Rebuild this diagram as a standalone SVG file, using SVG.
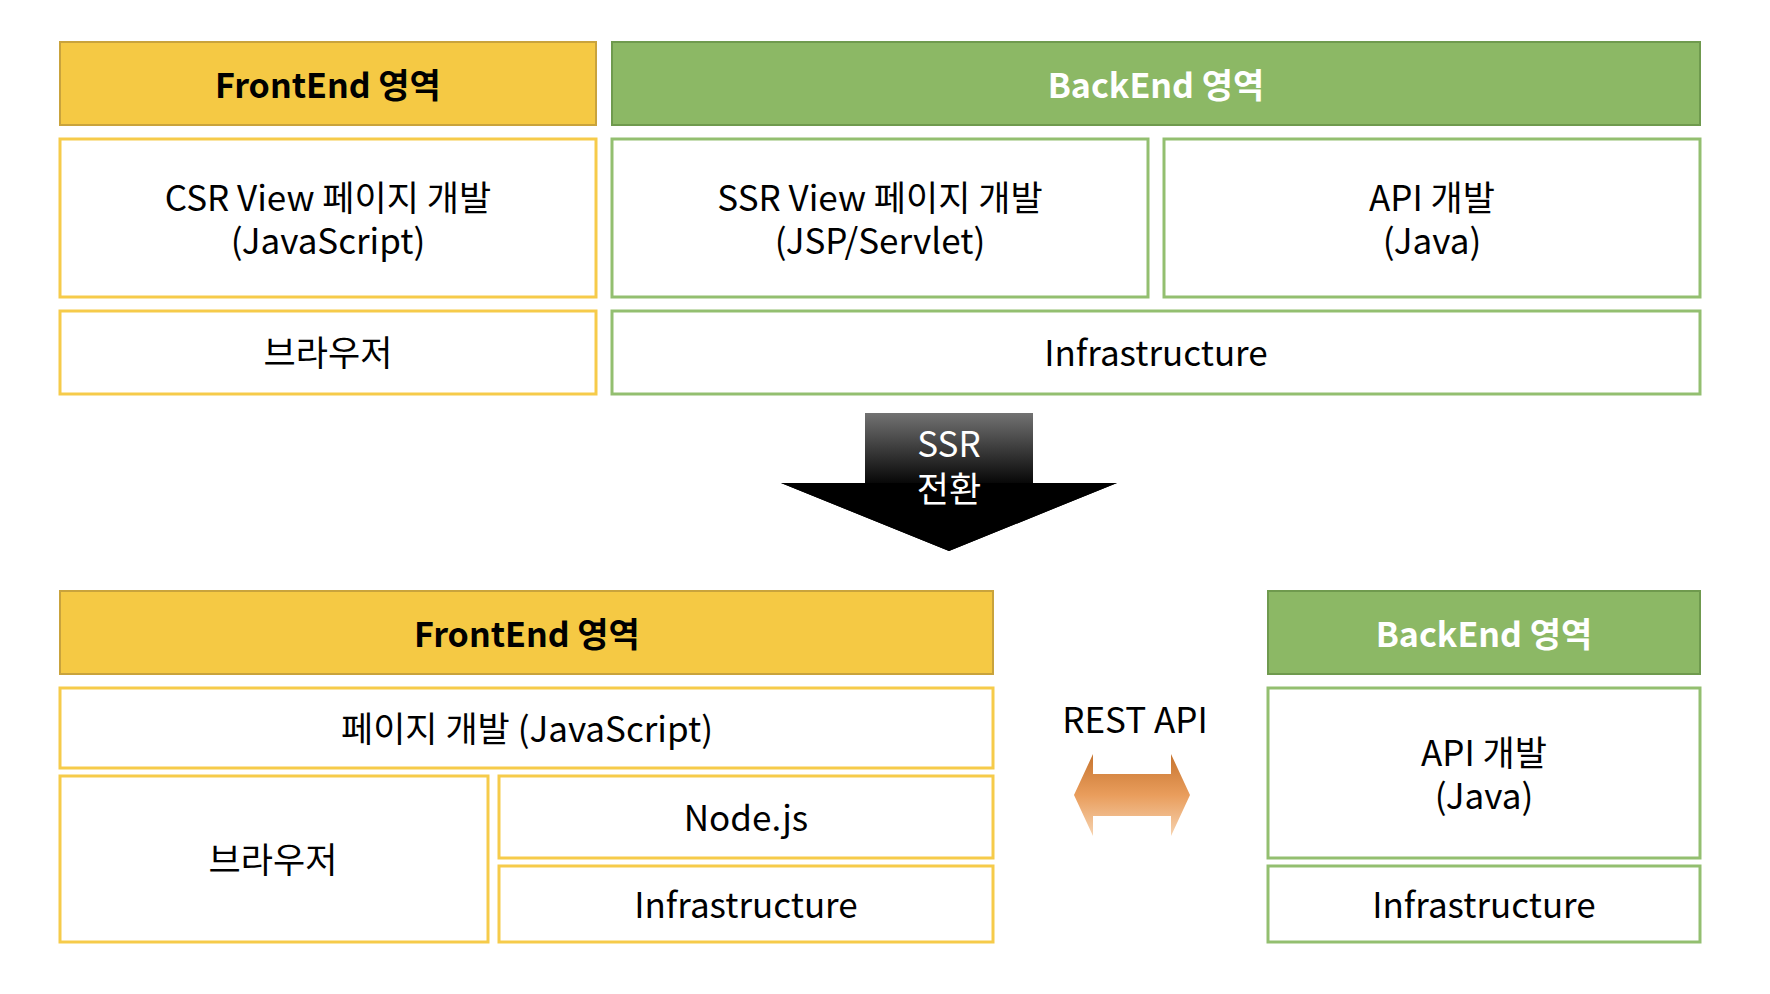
<svg xmlns="http://www.w3.org/2000/svg" width="1770" height="994" viewBox="0 0 1770 994">
<defs>
<style>
.t{font-family:"Noto Sans CJK KR","Noto Sans",sans-serif;font-size:35px;text-anchor:middle;fill:#000}
.hb{font-weight:bold;font-size:34px}
.w{fill:#fff}
.fh{fill:#f5c944;stroke:#c9a33c;stroke-width:2}
.bh{fill:#8cb865;stroke:#6f9a4e;stroke-width:2}
.fb{fill:#fff;stroke:#f6cb4a;stroke-width:3}
.bb{fill:#fff;stroke:#93bf70;stroke-width:3}
</style>
<linearGradient id="gShaft" gradientUnits="userSpaceOnUse" x1="0" y1="413" x2="0" y2="488">
<stop offset="0" stop-color="#727272"/>
<stop offset="1" stop-color="#000"/>
</linearGradient>
<linearGradient id="gOrange" gradientUnits="userSpaceOnUse" x1="0" y1="754" x2="0" y2="836">
<stop offset="0" stop-color="#c6742f"/>
<stop offset="0.5" stop-color="#e99d5c"/>
<stop offset="1" stop-color="#f6d3b0"/>
</linearGradient>
</defs>
<rect width="1770" height="994" fill="#fff"/>

<g id="top-frontend-header"><rect class="fh" x="60" y="42" width="536" height="83"/><text class="t hb" x="328" y="98">FrontEnd 영역</text></g>
<g id="top-backend-header"><rect class="bh" x="612" y="42" width="1088" height="83"/><text class="t hb w" x="1156" y="98">BackEnd 영역</text></g>
<g id="top-csr"><rect class="fb" x="60" y="139" width="536" height="158"/><text class="t" x="328" y="211">CSR View 페이지 개발</text><text class="t" x="328" y="254">(JavaScript)</text></g>
<g id="top-ssr"><rect class="bb" x="612" y="139" width="536" height="158"/><text class="t" x="880" y="211">SSR View 페이지 개발</text><text class="t" x="880" y="254">(JSP/Servlet)</text></g>
<g id="top-api"><rect class="bb" x="1164" y="139" width="536" height="158"/><text class="t" x="1432" y="211">API 개발</text><text class="t" x="1432" y="254">(Java)</text></g>
<g id="top-browser"><rect class="fb" x="60" y="311" width="536" height="83"/><text class="t" x="328" y="366">브라우저</text></g>
<g id="top-infra"><rect class="bb" x="612" y="311" width="1088" height="83"/><text class="t" x="1156" y="366">Infrastructure</text></g>

<g id="bottom-frontend-header"><rect class="fh" x="60" y="591" width="933" height="83"/><text class="t hb" x="527" y="647">FrontEnd 영역</text></g>
<g id="bottom-page"><rect class="fb" x="60" y="688" width="933" height="80"/><text class="t" x="527" y="742">페이지 개발 (JavaScript)</text></g>
<g id="bottom-browser"><rect class="fb" x="60" y="776" width="428" height="166"/><text class="t" x="273" y="873">브라우저</text></g>
<g id="bottom-node"><rect class="fb" x="499" y="776" width="494" height="82"/><text class="t" x="746" y="831">Node.js</text></g>
<g id="bottom-fe-infra"><rect class="fb" x="499" y="866" width="494" height="76"/><text class="t" x="746" y="918">Infrastructure</text></g>
<g id="bottom-backend-header"><rect class="bh" x="1268" y="591" width="432" height="83"/><text class="t hb w" x="1484" y="647">BackEnd 영역</text></g>
<g id="bottom-api"><rect class="bb" x="1268" y="688" width="432" height="170"/><text class="t" x="1484" y="766">API 개발</text><text class="t" x="1484" y="809">(Java)</text></g>
<g id="bottom-be-infra"><rect class="bb" x="1268" y="866" width="432" height="76"/><text class="t" x="1484" y="918">Infrastructure</text></g>

<g id="connectors">
<g id="ssr-transition">
<polygon points="865,413 1033,413 1033,483 1117,483 949,551 781,483 865,483" fill="url(#gShaft)"/>
<polygon points="865,483 1033,483 1117,483 949,551 781,483" fill="#000"/>
<text class="t w" x="949" y="457">SSR</text>
<text class="t w" x="949" y="502">전환</text>
</g>
<g id="rest-api">
<text class="t" x="1135" y="733">REST API</text>
<polygon points="1074,795 1093,754 1093,774 1171,774 1171,754 1190,795 1171,836 1171,816 1093,816 1093,836" fill="url(#gOrange)"/>
</g>
</g>
</svg>
